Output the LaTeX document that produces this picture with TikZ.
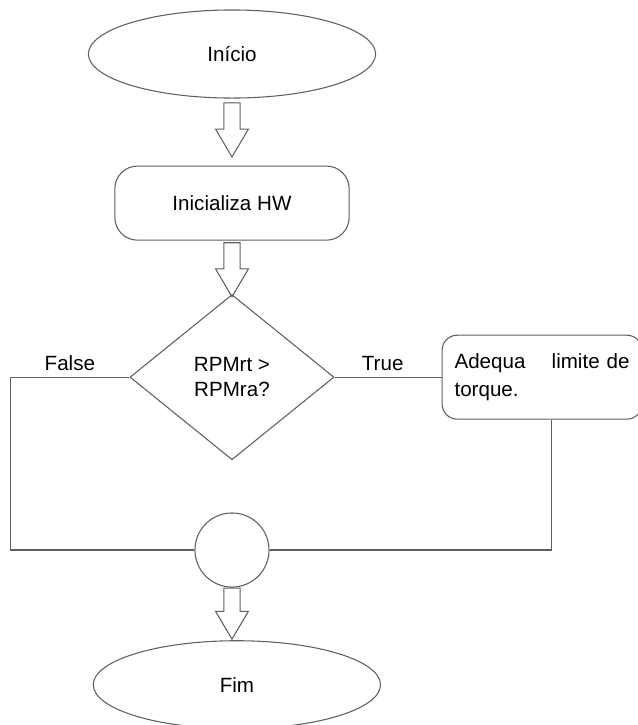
\documentclass[tikz,border=0pt]{standalone}
\usepackage{fontspec}
\setmainfont{Liberation Sans}
\usepackage{xcolor}
\usetikzlibrary{
  shapes.geometric, shapes.arrows,
  positioning, calc
}
\definecolor{LineGray}{RGB}{95,95,95}
\tikzset{
  basenode/.style={draw=LineGray, line width=0.8pt, align=center,
    font=\fontsize{15.5}{19}\selectfont, text=black},
  termbox/.style={basenode, ellipse, inner sep=0pt,
    minimum width=7.6cm, minimum height=2.33cm},
  procbox/.style={basenode, rectangle, rounded corners=0.6cm,
    minimum width=6.2cm, minimum height=1.96cm},
  decbox/.style={basenode, diamond, inner sep=0pt,
    minimum width=5.4cm, minimum height=4.37cm},
  joinbox/.style={basenode, circle, inner sep=0pt, minimum size=1.96cm},
  actbox/.style={basenode, rectangle, rounded corners=0.4cm, align=left,
    text width=4.63cm, inner xsep=0.33cm, minimum height=2.22cm,
    font=\fontsize{15.5}{21}\selectfont},
  fatarrow/.style={single arrow, draw=LineGray, line width=0.8pt,
    fill=white, inner sep=0.2cm, minimum height=1.43cm, minimum width=0.85cm,
    single arrow head extend=0.22cm, single arrow tip angle=61,
    shape border rotate=270},
  link/.style={draw=LineGray, line width=0.8pt},
  lbl/.style={font=\fontsize{15.5}{19}\selectfont, text=black}
}

\begin{document}
\begin{tikzpicture}

  \useasboundingbox[fill=white] (-6.138,1.429) rectangle (10.742,-17.753);

  % Main column
  \node[termbox] (start) at (0,0) {Início};
  \node[fatarrow, below=0.1cm of start] (arr1) {};
  \node[procbox, below=0.2cm of arr1] (init) {Inicializa HW};
  \node[fatarrow, below=0.04cm of init] (arr2) {};
  \node[decbox, below=-0.1cm of arr2] (dec) {RPMrt >\\RPMra?};
  \node[joinbox, below=1.38cm of dec] (join) {};
  \node[fatarrow, below=0cm of join, minimum height=1.35cm] (arr3) {};
  \node[termbox, below=0cm of arr3, xshift=0.13cm] (end) {Fim};

  % True branch
  \node[actbox, right=2.83cm of dec] (act)
    {Adequa\hskip 0pt plus 1filll\relax limite de\\torque.};

  \draw[link] (dec.east) -- node[lbl, above=1pt, pos=0.45] {True} (act.west);
  \draw[link] ([xshift=0.24cm]act.south) |- (join.east);

  % False branch
  \draw[link] (dec.west) -- node[lbl, above=1pt] {False} ++(-3.15,0) |- (join.west);

\end{tikzpicture}
\end{document}
